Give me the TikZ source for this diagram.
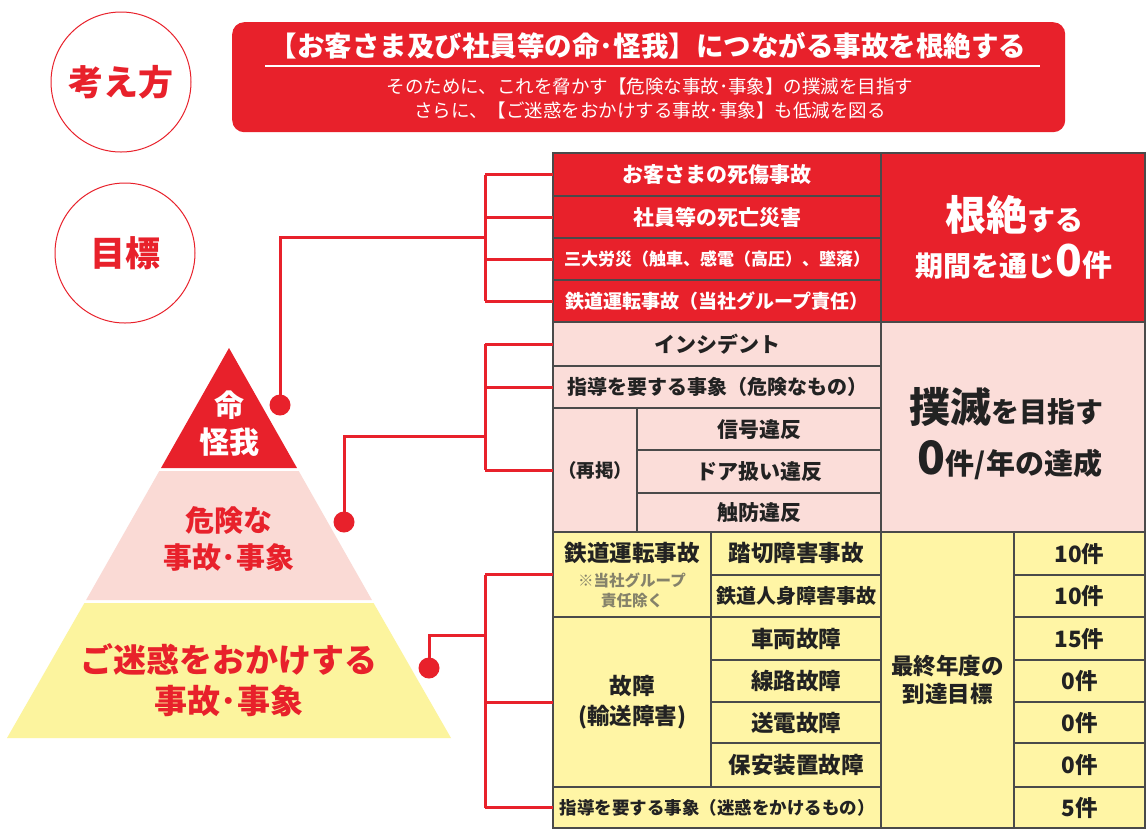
\documentclass[tikz,border=0pt]{standalone}
\usepackage{fontspec}
\setmainfont{Noto Sans CJK JP}
\definecolor{jred}{HTML}{E8212B}
\definecolor{ppink}{HTML}{FADAD5}
\definecolor{pyel}{HTML}{FCF49E}
\definecolor{tpink}{HTML}{FBDDD9}
\definecolor{tyel}{HTML}{FFF5A5}
\definecolor{gridc}{HTML}{4A4A4A}
\definecolor{txt}{HTML}{222222}
\definecolor{noteg}{HTML}{85826A}
\newcommand\fsz[2]{\fontsize{#1}{#2}\selectfont}
\begin{document}
\begin{tikzpicture}[x=1pt,y=-1pt,
  cell/.style={draw=gridc, line width=1.2pt, inner sep=0pt, outer sep=0pt,
    anchor=north west, align=center, text=txt, font=\bfseries\fsz{21}{24}},
  redcell/.style={cell, fill=jred, text=white},
  pinkcell/.style={cell, fill=tpink},
  yelcell/.style={cell, fill=tyel},
  conn/.style={draw=jred, line width=3pt},
  dotn/.style={circle, fill=jred, inner sep=0pt, minimum size=21pt},
  ring/.style={circle, draw=jred, line width=1pt, minimum size=140pt, inner sep=0pt,
    text=jred, font=\bfseries\fsz{35}{40}}]
\useasboundingbox (0,0) rectangle (1147,831);
\fill[white] (0,0) rectangle (1147,831);

% circles
\node[ring] (kangae) at (121,82) {考え方};
\node[ring] (mokuhyo) at (125,253) {目標};

% banner
\node[fill=jred, rounded corners=12pt, minimum width=833pt, minimum height=110pt,
  inner sep=0pt, anchor=north west] (banner) at (232,22) {};
\node[text=white, font=\bfseries\fsz{27.5}{30}] (btitle) at (648,46)
  {【お客さま及び社員等の命･怪我】につながる事故を根絶する};
\draw[white, line width=2pt] (265,66) -- (1040,66);
\node[text=white, font=\fsz{18.5}{24}, align=center] (bsub) at (650,98)
  {そのために、これを脅かす【危険な事故･事象】の撲滅を目指す\\さらに、【ご迷惑をおかけする事故･事象】も低減を図る};

% pyramid
\fill[jred] (229,348) -- (297,468) -- (161,468) -- cycle;
\fill[ppink] (159.3,471) -- (298.7,471) -- (371.9,600) -- (86.1,600) -- cycle;
\fill[pyel] (84.4,603) -- (373.6,603) -- (451,738) -- (7,738) -- cycle;
\node[text=white, font=\bfseries\fsz{30}{37}, align=center] (tier1) at (229,424) {命\\怪我};
\node[text=jred, font=\bfseries\fsz{29}{37}, align=center] (tier2) at (229,539) {危険な\\事故･事象};
\node[text=jred, font=\bfseries\fsz{33}{41}, align=center] (tier3) at (229,680) {ご迷惑をおかけする\\事故･事象};

% red section
\node[redcell, minimum width=328pt, minimum height=43pt] (r1) at (553,153) {お客さまの死傷事故};
\node[redcell, minimum width=328pt, minimum height=42pt] (r2) at (553,196) {社員等の死亡災害};
\node[redcell, minimum width=328pt, minimum height=42pt, font=\bfseries\fsz{17}{20}] (r3) at (553,238) {三大労災（触車、感電（高圧）、墜落）};
\node[redcell, minimum width=328pt, minimum height=42pt, font=\bfseries\fsz{19}{22}] (r4) at (553,280) {鉄道運転事故（当社グループ責任）};
\node[redcell, minimum width=264pt, minimum height=169pt] (rgoal) at (881,153) {};
\node[text=white, font=\bfseries] (rg1) at (1014,215) {{\fsz{41}{44}根絶}{\fsz{28}{30}する}};
\node[text=white, font=\bfseries] (rg2) at (1014,262) {{\fsz{28}{30}期間を通じ}{\fsz{44}{44}0}{\fsz{30}{30}件}};

% pink section
\node[pinkcell, minimum width=328pt, minimum height=44pt] (p1) at (553,322) {インシデント};
\node[pinkcell, minimum width=328pt, minimum height=42pt, font=\bfseries\fsz{20}{24}] (p2) at (553,366) {指導を要する事象（危険なもの）};
\node[pinkcell, minimum width=84pt, minimum height=124pt, font=\bfseries\fsz{18.5}{22}] (p3) at (553,408) {（再掲）};
\node[pinkcell, minimum width=244pt, minimum height=42pt] (p4) at (637,408) {信号違反};
\node[pinkcell, minimum width=244pt, minimum height=43pt] (p5) at (637,450) {ドア扱い違反};
\node[pinkcell, minimum width=244pt, minimum height=39pt] (p6) at (637,493) {触防違反};
\node[pinkcell, minimum width=264pt, minimum height=210pt] (pgoal) at (881,322) {};
\node[text=txt, font=\bfseries] (pg1) at (1006,407) {{\fsz{41}{44}撲滅}{\fsz{28}{30}を目指す}};
\node[text=txt, font=\bfseries] (pg2) at (1010,460) {{\fsz{46}{46}0}{\fsz{29}{30}件/年の達成}};

% yellow section
\node[yelcell, minimum width=158pt, minimum height=85pt] (y1) at (553,532) {};
\node[text=txt, font=\bfseries\fsz{22.5}{26}] (y1a) at (632,553) {鉄道運転事故};
\node[text=noteg, font=\bfseries\fsz{15.5}{20}, align=center] (y1b) at (632,590) {※当社グループ\\責任除く};
\node[yelcell, minimum width=170pt, minimum height=43pt, font=\bfseries\fsz{22.5}{26}] (y2) at (711,532) {踏切障害事故};
\node[yelcell, minimum width=170pt, minimum height=42pt, font=\bfseries\fsz{20}{24}] (y3) at (711,575) {鉄道人身障害事故};
\node[yelcell, minimum width=158pt, minimum height=170pt, font=\bfseries\fsz{22.5}{30}] (y4) at (553,617) {故障\\(輸送障害)};
\node[yelcell, minimum width=170pt, minimum height=43pt, font=\bfseries\fsz{22.5}{26}] (y5) at (711,617) {車両故障};
\node[yelcell, minimum width=170pt, minimum height=42pt, font=\bfseries\fsz{22.5}{26}] (y6) at (711,660) {線路故障};
\node[yelcell, minimum width=170pt, minimum height=41pt, font=\bfseries\fsz{22.5}{26}] (y7) at (711,702) {送電故障};
\node[yelcell, minimum width=170pt, minimum height=44pt, font=\bfseries\fsz{22.5}{26}] (y8) at (711,743) {保安装置故障};
\node[yelcell, minimum width=328pt, minimum height=41pt, font=\bfseries\fsz{17.5}{22}] (y9) at (553,787) {指導を要する事象（迷惑をかけるもの）};
\node[yelcell, minimum width=133pt, minimum height=296pt, font=\bfseries\fsz{22.5}{28}] (ygoal) at (881,532) {最終年度の\\到達目標};
\node[yelcell, minimum width=131pt, minimum height=43pt, font=\bfseries\fsz{22.5}{26}] (n1) at (1014,532) {10件};
\node[yelcell, minimum width=131pt, minimum height=42pt, font=\bfseries\fsz{22.5}{26}] (n2) at (1014,575) {10件};
\node[yelcell, minimum width=131pt, minimum height=43pt, font=\bfseries\fsz{22.5}{26}] (n3) at (1014,617) {15件};
\node[yelcell, minimum width=131pt, minimum height=42pt, font=\bfseries\fsz{22.5}{26}] (n4) at (1014,660) {0件};
\node[yelcell, minimum width=131pt, minimum height=41pt, font=\bfseries\fsz{22.5}{26}] (n5) at (1014,702) {0件};
\node[yelcell, minimum width=131pt, minimum height=44pt, font=\bfseries\fsz{22.5}{26}] (n6) at (1014,743) {0件};
\node[yelcell, minimum width=131pt, minimum height=41pt, font=\bfseries\fsz{22.5}{26}] (n7) at (1014,787) {5件};

% connectors
\node[dotn] (dot1) at (280,405) {};
\node[dotn] (dot2) at (344,522) {};
\node[dotn] (dot3) at (429,668) {};
\coordinate (b1) at (485,237);
\coordinate (b2) at (485,436);
\coordinate (b3) at (485,635);

\draw[conn] (dot1.center) |- (b1);
\draw[conn] (r1.west -| b1) -- (r4.west -| b1);
\foreach \c in {r1,r2,r3,r4} \draw[conn] (\c.west -| b1) -- (\c.west);

\draw[conn] (dot2.center) |- (b2);
\draw[conn] (p1.west -| b2) -- (p3.west -| b2);
\foreach \c in {p1,p2,p3} \draw[conn] (\c.west -| b2) -- (\c.west);

\draw[conn] (dot3.center) |- (b3);
\draw[conn] (y1.west -| b3) -- (y9.west -| b3);
\foreach \c in {y1,y4,y9} \draw[conn] (\c.west -| b3) -- (\c.west);
\end{tikzpicture}
\end{document}
